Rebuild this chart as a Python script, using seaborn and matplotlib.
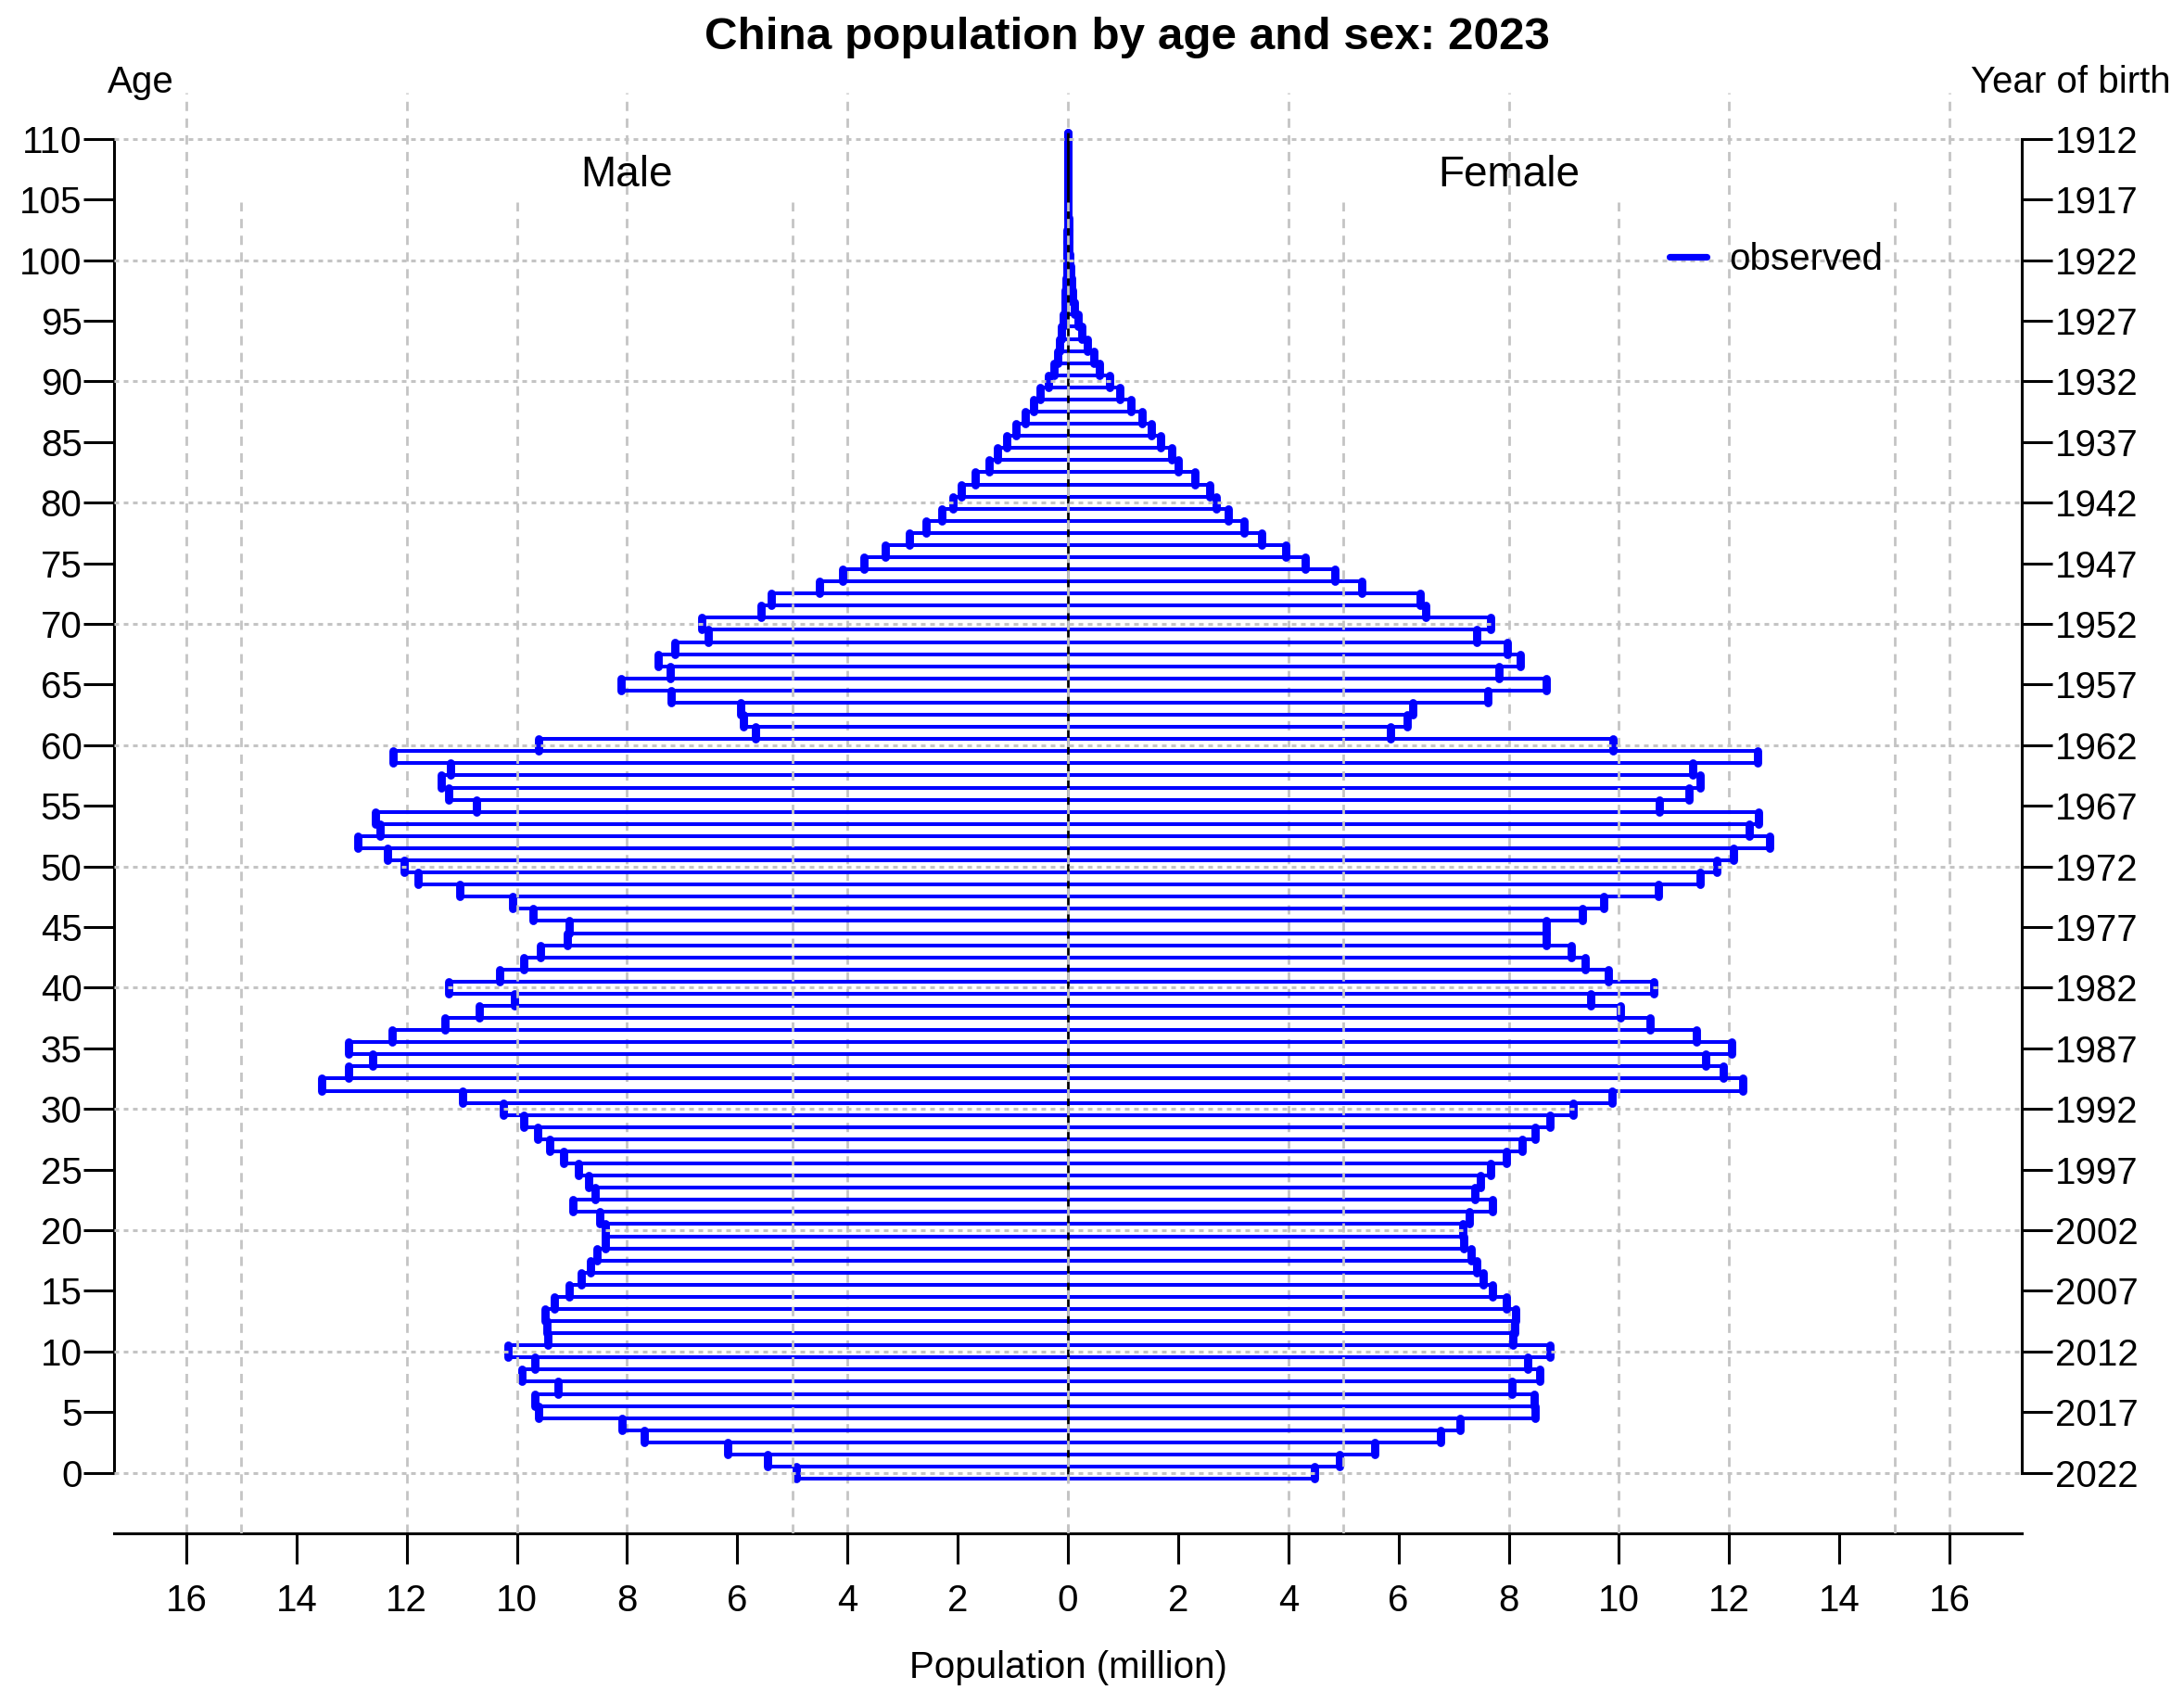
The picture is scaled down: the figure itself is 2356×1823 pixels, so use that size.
import numpy as np
import pandas as pd
import seaborn as sns
import matplotlib
matplotlib.use('Agg')
import matplotlib.pyplot as plt
from matplotlib.lines import Line2D

# population in million, single years of age 0..110
ages = np.arange(0, 111)
male = [4.93, 5.45, 6.18, 7.69, 8.09, 9.60, 9.67, 9.26, 9.91, 9.68,
        10.16, 9.43, 9.46, 9.49, 9.32, 9.05, 8.84, 8.67, 8.55, 8.40,
        8.40, 8.50, 8.98, 8.58, 8.70, 8.88, 9.15, 9.41, 9.63, 9.87,
        10.25, 10.99, 13.54, 13.06, 12.62, 13.06, 12.27, 11.31, 10.68, 10.04,
        11.24, 10.32, 9.87, 9.58, 9.08, 9.05, 9.70, 10.08, 11.04, 11.79,
        12.05, 12.34, 12.89, 12.48, 12.57, 10.73, 11.24, 11.38, 11.21, 12.24,
        9.61, 5.67, 5.89, 5.93, 7.20, 8.10, 7.21, 7.43, 7.13, 6.53,
        6.65, 5.57, 5.38, 4.50, 4.09, 3.70, 3.32, 2.87, 2.57, 2.29,
        2.09, 1.93, 1.69, 1.43, 1.28, 1.11, 0.94, 0.77, 0.63, 0.50,
        0.36, 0.26, 0.19, 0.146, 0.11, 0.08, 0.056, 0.045, 0.034, 0.022,
        0.017, 0.012, 0.009, 0.006, 0.004, 0.003, 0.002, 0.0015, 0.001, 0.0007,
        0.0005]
female = [4.47, 4.93, 5.57, 6.77, 7.11, 8.48, 8.46, 8.05, 8.57, 8.34,
          8.75, 8.08, 8.10, 8.13, 7.96, 7.71, 7.54, 7.42, 7.31, 7.18,
          7.16, 7.28, 7.71, 7.38, 7.48, 7.67, 7.96, 8.24, 8.48, 8.74,
          9.17, 9.87, 12.25, 11.89, 11.57, 12.05, 11.40, 10.57, 10.02, 9.48,
          10.64, 9.80, 9.39, 9.13, 8.68, 8.68, 9.34, 9.73, 10.71, 11.48,
          11.77, 12.08, 12.73, 12.37, 12.53, 10.74, 11.27, 11.48, 11.34, 12.51,
          9.89, 5.85, 6.16, 6.25, 7.62, 8.68, 7.82, 8.21, 7.98, 7.42,
          7.67, 6.50, 6.39, 5.34, 4.84, 4.30, 3.95, 3.51, 3.20, 2.91,
          2.69, 2.58, 2.31, 2.00, 1.88, 1.69, 1.52, 1.34, 1.14, 0.95,
          0.75, 0.58, 0.47, 0.36, 0.26, 0.18, 0.12, 0.09, 0.067, 0.045,
          0.034, 0.025, 0.018, 0.012, 0.008, 0.006, 0.004, 0.003, 0.002, 0.0013,
          0.001]

age_ticks = list(range(0, 111, 5))
year_labels = ['2022', '2017', '2012', '2007', '2002', '1997', '1992', '1987',
               '1982', '1977', '1972', '1967', '1962', '1957', '1952', '1947',
               '1942', '1937', '1932', '1927', '1922', '1917', '1912']
pop_ticks = list(range(-16, 17, 2))
pop_labels = [str(abs(t)) for t in pop_ticks]
grid4 = [-16, -12, -8, -4, 0, 4, 8, 12, 16]
grid5 = [-15, -10, -5, 0, 5, 10, 15]
grid_age = list(range(0, 111, 10))

sns.set_theme(style='white')
plt.rcParams['font.family'] = ['Liberation Sans', 'DejaVu Sans']
plt.rcParams['lines.scale_dashes'] = False
for k in ('text.color', 'axes.labelcolor', 'xtick.color', 'ytick.color', 'axes.edgecolor'):
    plt.rcParams[k] = 'black'

male = np.array(male)
female = np.array(female)

# outline of each single-age bar (bottom edge, outer edge, top edge)
rows = []
for a, m, f in zip(ages, male, female):
    for side, v in (('M', -m), ('F', f)):
        u = '%s%d' % (side, a)
        rows += [(u, 0.0, a - 0.5), (u, v, a - 0.5), (u, v, a + 0.5), (u, 0.0, a + 0.5)]
outline = pd.DataFrame(rows, columns=['unit', 'x', 'y'])

W, H = 2356, 1823
fig = plt.figure(figsize=(W / 200, H / 200), dpi=200)
ax = fig.add_axes([123 / W, 1 - 1654 / H, (2181 - 123) / W, (1654 - 100) / H])
ax.set_xlim(-17.31, 17.31)
ax.set_ylim(-5.0, 113.8)

grid_c = '#c4c4c4'
for g in grid4:
    ax.axvline(g, color=grid_c, lw=1.0, ls=(0, (3.6, 2.9)), zorder=1)

sns.lineplot(data=outline, x='x', y='y', units='unit', estimator=None, sort=False,
             color='blue', linewidth=1.45, ax=ax, legend=False, zorder=3)
ends = ax.vlines(np.concatenate([-male, female]), np.tile(ages - 0.5, 2), np.tile(ages + 0.5, 2),
                 colors='blue', lw=3.2, zorder=3)
ends.set_capstyle('round')
ax.vlines(0, -0.5, 110.5, colors='black', lw=1.0, zorder=4)

ax.vlines(grid5, -5.0, 104.8, colors=grid_c, lw=1.0, linestyles=[(0, (3.6, 2.9))], zorder=5)
ax.hlines(grid_age, -17.31, 17.31, colors=grid_c, lw=1.1, linestyles=[(0, (1.8, 1.8))], zorder=5)

ax.set_xlabel('')
ax.set_ylabel('')
ax.set_xticks(pop_ticks)
ax.set_xticklabels(pop_labels)
ax.set_yticks(age_ticks)
ax.set_yticklabels([str(a) for a in age_ticks])
ax.tick_params(axis='x', length=11.9, width=1.1, pad=7.5, labelsize=14.5, direction='out',
               color='black', labelcolor='black', bottom=True)
ax.tick_params(axis='y', length=11.9, width=1.1, pad=0.5, labelsize=14.5, direction='out',
               color='black', labelcolor='black', left=True)
for s in ('top', 'right'):
    ax.spines[s].set_visible(False)
ax.spines['left'].set_bounds(0, 110)
for s in ('left', 'bottom'):
    ax.spines[s].set_color('black')
    ax.spines[s].set_linewidth(1.1)

ax2 = ax.twinx()
ax2.set_ylim(ax.get_ylim())
ax2.set_yticks(age_ticks)
ax2.set_yticklabels(year_labels)
ax2.tick_params(axis='y', length=11.9, width=1.1, pad=1.0, labelsize=14.5, direction='out',
                color='black', labelcolor='black', right=True)
for s in ('top', 'left', 'bottom'):
    ax2.spines[s].set_visible(False)
ax2.spines['right'].set_bounds(0, 110)
ax2.spines['right'].set_color('black')
ax2.spines['right'].set_linewidth(1.1)
ax2.grid(False)
ax.grid(False)

ax.text(-8, 106.05, 'Male', ha='center', va='baseline', fontsize=16.5)
ax.text(8, 106.05, 'Female', ha='center', va='baseline', fontsize=16.5)

# legend drawn at figure level so it sits above the dotted grid line
handle = Line2D([], [], color='blue', lw=2.6, ls='-', solid_capstyle='round')
leg = fig.legend(handles=[handle], labels=['observed'], loc='center left',
                 bbox_to_anchor=(1800.6 / W, 1 - 280 / H), bbox_transform=fig.transFigure,
                 frameon=False, borderpad=0, borderaxespad=0, handlelength=1.0,
                 handletextpad=0.6, fontsize=14.5)
leg.set_zorder(10)

fig.text(1216 / W, 1 - 53 / H, 'China population by age and sex: 2023', ha='center',
         va='baseline', fontsize=17.8, fontweight='bold')
fig.text(152 / W, 1 - 100 / H, 'Age', ha='center', va='baseline', fontsize=14.5)
fig.text(2342 / W, 1 - 100 / H, 'Year of birth', ha='right', va='baseline', fontsize=14.5)
fig.text(1152 / W, 1 - 1810 / H, 'Population (million)', ha='center', va='baseline', fontsize=14.5)

fig.savefig('out.png', dpi=200, facecolor='white')
